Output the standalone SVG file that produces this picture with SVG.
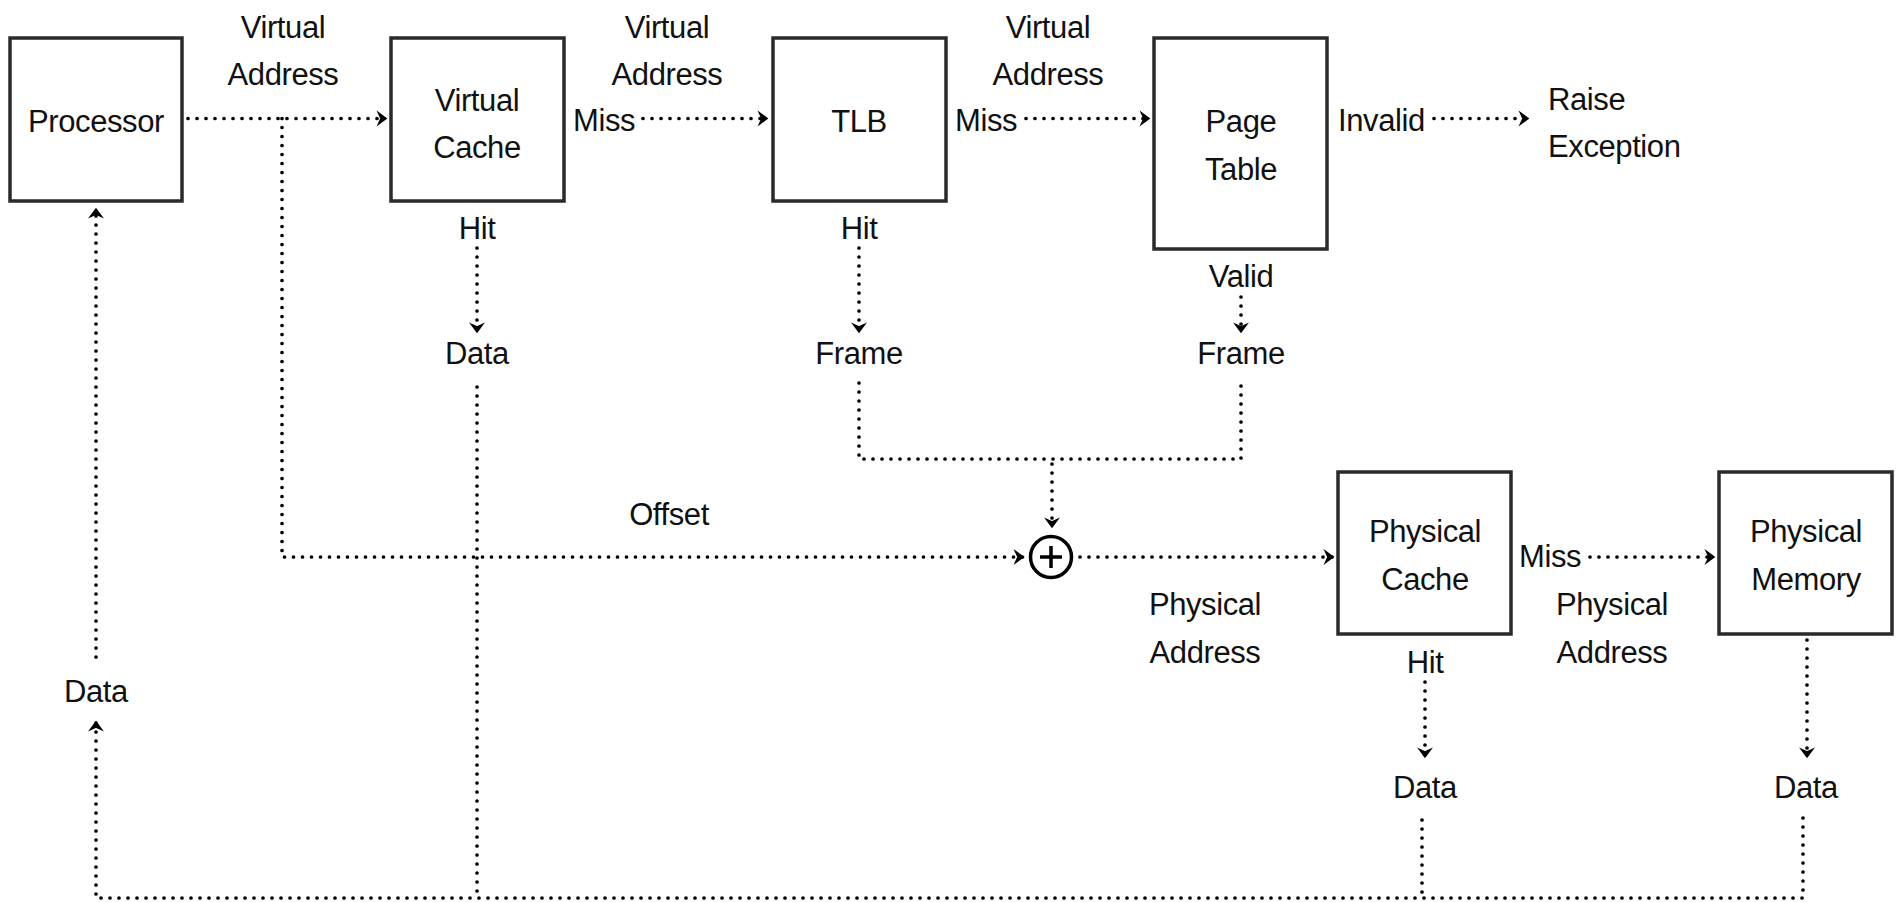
<svg xmlns="http://www.w3.org/2000/svg" width="1898" height="902" viewBox="0 0 1898 902">
<style>
.box{fill:#fff;stroke:#2a2a2a;stroke-width:3.5}
.t{font-family:"Liberation Sans",Arial,sans-serif;font-size:31px;letter-spacing:-0.4px;fill:#111;text-anchor:middle}
.s{text-anchor:start}
.d{fill:none;stroke:#000;stroke-width:3.7;stroke-linecap:round;stroke-dasharray:0 9}
</style>
<defs>
<marker id="ah" markerUnits="userSpaceOnUse" markerWidth="14" markerHeight="14" refX="10" refY="7" orient="auto" overflow="visible">
<path d="M2.5,1.5 L10,7 L2.5,12.5 L5,7 Z" fill="#000" stroke="#000" stroke-width="1.6" stroke-linejoin="miter"/>
</marker>
</defs>
<rect width="1898" height="902" fill="#fff"/>

<g id="connectors">
<path class="d" d="M188,118.5 H386" marker-end="url(#ah)"/>
<path class="d" d="M282,118.5 V557 H1023" marker-end="url(#ah)"/>
<path class="d" d="M643,118.5 H767" marker-end="url(#ah)"/>
<path class="d" d="M1026,118.5 H1149" marker-end="url(#ah)"/>
<path class="d" d="M1434,118.5 H1528" marker-end="url(#ah)"/>
<path class="d" d="M477,248 V332" marker-end="url(#ah)"/>
<path class="d" d="M859,248 V332" marker-end="url(#ah)"/>
<path class="d" d="M1241,297 V332" marker-end="url(#ah)"/>
<path class="d" d="M859,383 V459 H1241 V383"/>
<path class="d" d="M1052,464 V527" marker-end="url(#ah)"/>
<path class="d" d="M1080,557 H1333" marker-end="url(#ah)"/>
<path class="d" d="M1590,557 H1714" marker-end="url(#ah)"/>
<path class="d" d="M1425,682 V757" marker-end="url(#ah)"/>
<path class="d" d="M1807,640 V757" marker-end="url(#ah)"/>
<path class="d" d="M477,387 V898"/>
<path class="d" d="M1422,820 V898"/>
<path class="d" d="M1803,818 V898 H96 V722" marker-end="url(#ah)"/>
<path class="d" d="M96,657 V209" marker-end="url(#ah)"/>
</g>

<g id="processor">
<rect class="box" x="10" y="38" width="172" height="163"/>
<text class="t" x="96" y="132">Processor</text>
</g>
<g id="virtual-cache">
<rect class="box" x="391" y="38" width="173" height="163"/>
<text class="t" x="477" y="110.5">Virtual</text>
<text class="t" x="477" y="158">Cache</text>
</g>
<g id="tlb">
<rect class="box" x="773" y="38" width="173" height="163"/>
<text class="t" x="859" y="132">TLB</text>
</g>
<g id="page-table">
<rect class="box" x="1154" y="38" width="173" height="211"/>
<text class="t" x="1241" y="132">Page</text>
<text class="t" x="1241" y="180">Table</text>
</g>
<g id="physical-cache">
<rect class="box" x="1338" y="472" width="173" height="162"/>
<text class="t" x="1425" y="541.5">Physical</text>
<text class="t" x="1425" y="590">Cache</text>
</g>
<g id="physical-memory">
<rect class="box" x="1719" y="472" width="173" height="162"/>
<text class="t" x="1806" y="541.5">Physical</text>
<text class="t" x="1806" y="590">Memory</text>
</g>
<g id="adder">
<circle cx="1051" cy="557" r="20.5" fill="#fff" stroke="#000" stroke-width="3.5"/>
<path d="M1040,557 H1062 M1051,546 V568" stroke="#000" stroke-width="3.5" fill="none"/>
</g>

<g id="labels">
<text class="t" x="283" y="38">Virtual</text>
<text class="t" x="283" y="85">Address</text>
<text class="t" x="667" y="38">Virtual</text>
<text class="t" x="667" y="85">Address</text>
<text class="t" x="1048" y="38">Virtual</text>
<text class="t" x="1048" y="85">Address</text>
<text class="t s" x="573" y="131">Miss</text>
<text class="t s" x="955" y="131">Miss</text>
<text class="t s" x="1338" y="131">Invalid</text>
<text class="t s" x="1548" y="110">Raise</text>
<text class="t s" x="1548" y="157">Exception</text>
<text class="t" x="477" y="239">Hit</text>
<text class="t" x="859" y="239">Hit</text>
<text class="t" x="1241" y="287">Valid</text>
<text class="t" x="477" y="364">Data</text>
<text class="t" x="859" y="364">Frame</text>
<text class="t" x="1241" y="364">Frame</text>
<text class="t" x="669" y="525">Offset</text>
<text class="t s" x="1519" y="567">Miss</text>
<text class="t" x="1205" y="615">Physical</text>
<text class="t" x="1205" y="663">Address</text>
<text class="t" x="1612" y="615">Physical</text>
<text class="t" x="1612" y="663">Address</text>
<text class="t" x="1425" y="673">Hit</text>
<text class="t" x="1425" y="798">Data</text>
<text class="t" x="1806" y="798">Data</text>
<text class="t" x="96" y="702">Data</text>
</g>
</svg>
